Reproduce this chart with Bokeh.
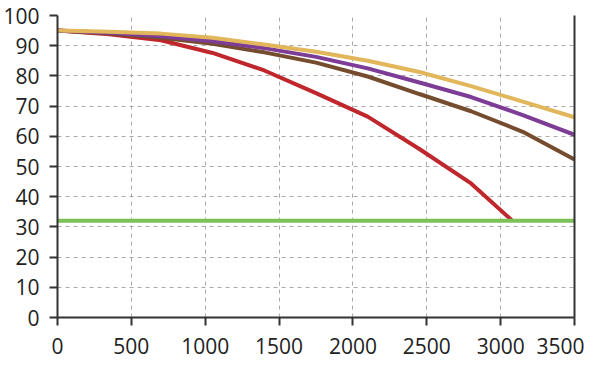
from bokeh.plotting import figure
from bokeh.models import Range1d, LinearAxis, FixedTicker
from bokeh.embed import file_html
from bokeh.resources import INLINE

# Data
x_ticks = [0, 500, 1000, 1500, 2000, 2500, 3000, 3500]
y_ticks = [0, 10, 20, 30, 40, 50, 60, 70, 80, 90, 100]

x_red = [0, 350, 700, 1050, 1400, 1750, 2100, 2450, 2800, 3080]
y_red = [95, 93.8, 91.8, 87.6, 81.8, 74.3, 66.5, 55.8, 44.4, 32]

x_full = [0, 350, 700, 1050, 1400, 1750, 2100, 2450, 2800, 3150, 3500]
y_brown = [95, 94.0, 92.6, 90.6, 87.8, 84.4, 79.8, 74.0, 68.3, 61.5, 52.3]
y_purple = [95, 94.3, 93.1, 91.5, 89.2, 86.3, 82.5, 77.8, 73.0, 67.0, 60.5]
y_yellow = [95, 94.6, 94.0, 92.6, 90.4, 88.0, 85.0, 81.3, 76.6, 71.5, 66.3]

x_green = [0, 3500]
y_green = [32, 32]

FONT = "Open Sans"
AX = "#333333"

p = figure(width=584, height=361, output_backend="svg", toolbar_location=None,
           x_range=Range1d(0, 3500), y_range=Range1d(0, 100),
           min_border_left=40, min_border_right=10, min_border_top=15, min_border_bottom=44)
p.outline_line_color = None
p.background_fill_color = "white"

p.line(x_red, y_red, line_color="#C0272D", line_width=4)
p.line(x_full, y_brown, line_color="#754C2E", line_width=4)
p.line(x_full, y_purple, line_color="#7D3C96", line_width=4)
p.line(x_full, y_yellow, line_color="#E2B65A", line_width=4)
p.line(x_green, y_green, line_color="#7DC15A", line_width=4)

for ax, ticks in ((p.xaxis[0], x_ticks), (p.yaxis[0], y_ticks)):
    ax.ticker = FixedTicker(ticks=ticks)
    ax.axis_line_color = AX
    ax.axis_line_width = 2
    ax.major_tick_line_color = AX
    ax.major_tick_line_width = 2
    ax.major_tick_out = 8
    ax.major_tick_in = 0
    ax.minor_tick_line_color = None
    ax.major_label_text_font = FONT
    ax.major_label_text_font_size = "21px"
    ax.major_label_text_color = "#222222"
p.xaxis[0].major_label_standoff = 12
p.yaxis[0].major_label_standoff = 10

right = LinearAxis(ticker=FixedTicker(ticks=[]), axis_line_color=AX, axis_line_width=2,
                   major_label_text_font_size="0px", major_tick_line_color=None,
                   minor_tick_line_color=None)
p.add_layout(right, "right")

p.xgrid.ticker = FixedTicker(ticks=x_ticks)
p.ygrid.ticker = FixedTicker(ticks=y_ticks)
for g in (p.xgrid[0], p.ygrid[0]):
    g.grid_line_color = "#AAAAAA"
    g.grid_line_width = 1
    g.grid_line_dash = "4 4"

open("out.html", "w").write(file_html(p, INLINE))
